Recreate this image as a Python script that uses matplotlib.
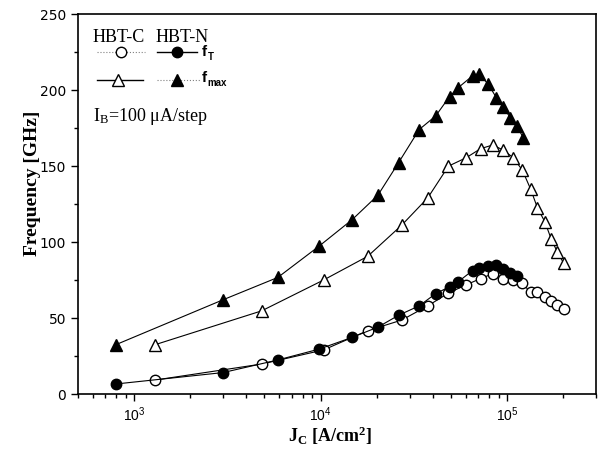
import matplotlib
matplotlib.use("Agg")
import matplotlib.pyplot as plt
from matplotlib.ticker import LogLocator, MultipleLocator, NullFormatter
from matplotlib.lines import Line2D

plt.rcParams['font.family'] = ['Liberation Sans', 'DejaVu Sans']
plt.rcParams['mathtext.fontset'] = 'custom'
plt.rcParams['mathtext.rm'] = 'Liberation Serif'
plt.rcParams['mathtext.it'] = 'Liberation Serif:italic'
plt.rcParams['mathtext.bf'] = 'Liberation Serif:bold'

# HBT-N (filled markers)
jc_n = [800, 3000, 5900, 9800, 14800, 20300, 26200, 33800, 41400, 49200,
        54800, 65300, 70900, 79300, 87600, 95700, 104000, 113000, 122000]
ft_n = [6.6, 14.1, 22.4, 29.5, 37.3, 44.0, 51.8, 58.0, 66.0, 70.6,
        73.9, 81.2, 82.9, 84.3, 84.8, 82.3, 79.6, 77.4]
fmax_n = [32.5, 62.0, 76.7, 97.2, 114.8, 130.8, 152.2, 174.0, 182.9, 195.7,
          201.6, 209.3, 210.4, 203.8, 195.0, 188.5, 181.9, 176.3, 168.7]

# HBT-C (open markers)
jc_c = [1300, 4830, 10380, 17900, 27200, 37600, 48500, 60500, 72100, 83700,
        95500, 107800, 120800, 134000, 145500, 159500, 172500, 186400, 201000]
ft_c = [9.2, 19.7, 29.0, 41.7, 48.6, 58.0, 66.4, 71.9, 75.9, 79.1,
        75.9, 74.7, 72.8, 66.8, 66.9, 63.8, 61.1, 58.6, 55.6]
fmax_c = [32.5, 54.7, 75.0, 90.6, 111.0, 129.1, 149.9, 155.5, 161.4, 163.8,
          160.5, 155.5, 147.3, 134.6, 122.5, 113.3, 102.0, 93.2, 86.2]

fig = plt.figure(figsize=(6, 4.5), dpi=100)
ax = fig.add_axes([78/600, 1-394/450, (596-78)/600, (394-14)/450])

lw = 0.8
ax.plot(jc_c, ft_c, '-', color='black', lw=lw, marker='o', ms=7.5,
        mfc='white', mec='black', mew=1.0)
ax.plot(jc_n[:len(ft_n)], ft_n, '-', color='black', lw=lw, marker='o', ms=7.5,
        mfc='black', mec='black')
ax.plot(jc_c, fmax_c, '-', color='black', lw=lw, marker='^', ms=8.5,
        mfc='white', mec='black', mew=1.0)
ax.plot(jc_n, fmax_n, '-', color='black', lw=lw, marker='^', ms=8.5,
        mfc='black', mec='black')

ax.set_xscale('log')
ax.set_xlim(500, 3e5)
ax.set_ylim(0, 250)
ax.yaxis.set_major_locator(MultipleLocator(50))
ax.yaxis.set_minor_locator(MultipleLocator(25))
ax.xaxis.set_major_locator(LogLocator(base=10, numticks=10))
ax.xaxis.set_minor_locator(LogLocator(base=10, subs=range(2, 10), numticks=20))
ax.xaxis.set_minor_formatter(NullFormatter())
ax.tick_params(which='major', direction='out', length=5, width=1)
ax.tick_params(which='minor', direction='out', length=3, width=1)
ax.tick_params(axis='x', labelsize=10)
ax.tick_params(axis='y', labelsize=10)
for lab in ax.get_yticklabels():
    lab.set_family('DejaVu Sans')
for s in ax.spines.values():
    s.set_linewidth(1.2)

ax.set_ylabel('Frequency [GHz]', family='Liberation Serif', fontweight='bold',
              fontsize=14)
ax.yaxis.set_label_coords((41 - 78) / 518, (394 - 183) / 380)
ax.set_xlabel(r'J$_{\mathbf{C}}$ [A/cm$^{\mathbf{2}}$]', family='Liberation Serif',
              fontweight='bold', fontsize=13)
ax.xaxis.set_label_coords((330 - 78) / 518, (394 - 425) / 380)

# custom legend
def fx(px):
    return (px - 78) / 518
def fy(py):
    return (394 - py) / 380

T = ax.transAxes
ax.text(fx(93), fy(42), 'HBT-C', transform=T, family='Liberation Serif',
        fontsize=13, va='baseline', ha='left')
ax.text(fx(156), fy(42), 'HBT-N', transform=T, family='Liberation Serif',
        fontsize=13, va='baseline', ha='left')
ax.add_line(Line2D([fx(97), fx(145)], [fy(52), fy(52)], transform=T, color='gray',
                   lw=0.8, ls=':'))
ax.add_line(Line2D([fx(121)], [fy(52)], transform=T, marker='o', ms=7.5,
                   mfc='white', mec='black', mew=1.0, ls='none'))
ax.add_line(Line2D([fx(157), fx(197)], [fy(52), fy(52)], transform=T, color='black',
                   lw=1.0))
ax.add_line(Line2D([fx(177)], [fy(52)], transform=T, marker='o', ms=7.5,
                   mfc='black', mec='black', ls='none'))
ax.add_line(Line2D([fx(97), fx(143)], [fy(80), fy(80)], transform=T, color='black',
                   lw=1.0))
ax.add_line(Line2D([fx(118)], [fy(80)], transform=T, marker='^', ms=8.5,
                   mfc='white', mec='black', mew=1.0, ls='none'))
ax.add_line(Line2D([fx(157), fx(200)], [fy(80), fy(80)], transform=T, color='gray',
                   lw=0.8, ls=':'))
ax.add_line(Line2D([fx(177)], [fy(80)], transform=T, marker='^', ms=8.5,
                   mfc='black', mec='black', ls='none'))

ax.text(fx(202), fy(56), 'f', transform=T, fontweight='bold', fontsize=11,
        va='baseline', ha='left')
ax.text(fx(207.5), fy(60), 'T', transform=T, fontweight='bold', fontsize=7,
        va='baseline', ha='left')
ax.text(fx(202), fy(82), 'f', transform=T, fontweight='bold', fontsize=11,
        va='baseline', ha='left')
ax.text(fx(207.5), fy(86), 'max', transform=T, fontweight='bold', fontsize=7,
        va='baseline', ha='left')

ax.text(fx(93), fy(121), r'I$_{\mathrm{B}}$=100 μA/step', transform=T,
        family='Liberation Serif', fontsize=13, va='baseline', ha='left')

fig.savefig('out.png', dpi=100)
